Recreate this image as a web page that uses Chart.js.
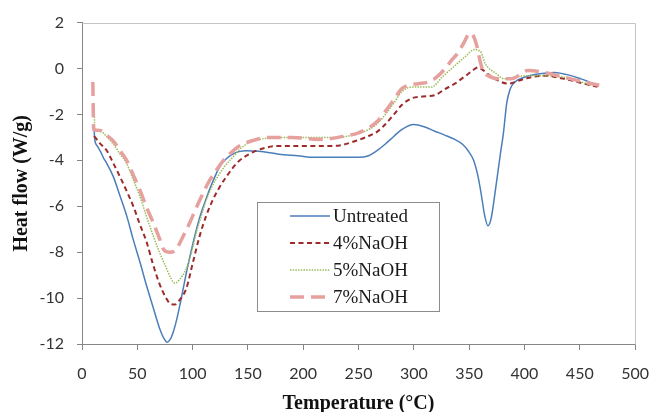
<!DOCTYPE html>
<html>
<head>
<meta charset="utf-8">
<script src="https://cdn.jsdelivr.net/npm/chart.js@4.4.1/dist/chart.umd.min.js"></script>
<style>
  html, body { margin: 0; padding: 0; background: #fff; }
  #wrap { width: 663px; height: 412px; }
</style>
</head>
<body>
<div id="wrap"><canvas id="dsc" width="663" height="412"></canvas></div>
<script>
// DSC curves (temperature in °C, heat flow in W/g)
const tempUntreated = [11, 11.3, 13.5, 16.5, 19.5, 22, 28.4, 34, 40.5, 46, 52.4, 58, 64.4, 70, 74, 77, 80, 83, 86, 90, 95, 100.4, 106, 112.4, 118, 124.4, 130, 136.3, 142, 148.4, 160, 178, 195, 211, 230, 250, 259, 266, 274, 282, 289, 299.7, 310, 319, 328, 337, 344, 349, 354, 358, 361, 364, 367, 370, 374, 378, 381, 384, 387, 391, 400, 412, 427, 442, 451, 459];
const flowUntreated = [-2.5, -3.0, -3.35, -3.6, -3.9, -4.1, -4.72, -5.5, -6.43, -7.4, -8.43, -9.4, -10.42, -11.3, -11.75, -11.92, -11.78, -11.4, -10.85, -9.95, -8.75, -7.6, -6.55, -5.65, -4.95, -4.29, -3.95, -3.73, -3.62, -3.58, -3.6, -3.73, -3.8, -3.87, -3.87, -3.87, -3.8, -3.6, -3.3, -2.95, -2.66, -2.44, -2.55, -2.73, -2.9, -3.09, -3.3, -3.58, -4.0, -4.7, -5.5, -6.4, -6.85, -6.5, -5.2, -3.8, -2.8, -1.5, -0.9, -0.6, -0.38, -0.24, -0.17, -0.31, -0.45, -0.59];

const temp4 = [11, 16, 22.5, 28, 34.4, 40, 46.4, 52, 58.5, 64, 70.4, 76, 80, 84, 88, 94.4, 100, 106.4, 112, 118.3, 124, 130.4, 136, 142.4, 154.3, 166, 178, 200, 229, 247, 259, 267, 274, 282, 289, 298, 308, 319, 328, 337, 343, 349, 354, 358, 362, 367, 376, 385, 400, 418, 436, 454, 466];
const flow4 = [-2.94, -3.25, -3.58, -4.1, -4.72, -5.3, -6.0, -6.75, -7.57, -8.5, -9.42, -10.0, -10.25, -10.28, -10.1, -9.57, -8.5, -7.29, -6.45, -5.72, -5.2, -4.72, -4.35, -4.01, -3.65, -3.45, -3.37, -3.37, -3.37, -3.16, -2.94, -2.75, -2.44, -2.0, -1.59, -1.3, -1.22, -1.16, -0.9, -0.66, -0.45, -0.24, -0.05, 0.05, -0.05, -0.24, -0.52, -0.66, -0.45, -0.31, -0.45, -0.66, -0.8];

const temp5 = [11, 11.5, 16.5, 22, 28.4, 34, 40.5, 46, 52.4, 58, 64.4, 70, 76.4, 80, 84, 88, 94.4, 99, 103.4, 108, 112.4, 118, 124.4, 130, 136.3, 142, 148.4, 160.3, 178, 200, 229, 247, 259, 267, 274, 282, 289, 298, 307, 316, 326, 337, 346, 355, 358, 361, 364, 368, 373, 382, 391, 403, 421, 442, 460];
const flow5 = [-1.5, -2.65, -2.73, -2.95, -3.3, -3.7, -4.15, -4.8, -5.58, -6.4, -7.29, -8.0, -8.71, -9.1, -9.35, -9.2, -8.71, -8.0, -7.15, -6.4, -5.72, -5.1, -4.58, -4.2, -3.87, -3.55, -3.3, -3.09, -3.01, -3.01, -3.01, -2.87, -2.66, -2.4, -2.02, -1.5, -1.02, -0.81, -0.81, -0.81, -0.35, 0.12, 0.5, 0.83, 0.8, 0.69, 0.26, 0.0, -0.17, -0.45, -0.38, -0.31, -0.31, -0.45, -0.73];

const temp7 = [9.8, 10.5, 16.5, 22, 28.4, 34, 40.5, 46, 52.4, 58, 64.4, 70, 73.4, 76.4, 79.4, 82.4, 85.4, 91, 97.4, 103, 109.4, 115, 121.4, 127, 133.4, 140, 148.4, 157, 166.4, 190, 214, 238, 250, 259, 267, 274, 282, 289, 295, 304, 313, 320, 328, 334, 340, 345, 350.7, 354, 357, 360, 363, 367, 376, 388, 403, 418, 436, 454, 467.6];
const flow7 = [-0.59, -2.66, -2.7, -2.9, -3.16, -3.55, -4.01, -4.6, -5.3, -6.0, -6.72, -7.4, -7.86, -7.98, -8.0, -7.98, -7.86, -7.35, -6.72, -6.1, -5.44, -4.9, -4.44, -4.05, -3.73, -3.45, -3.23, -3.1, -3.01, -3.0, -3.09, -2.94, -2.8, -2.59, -2.3, -1.88, -1.35, -0.88, -0.73, -0.66, -0.59, -0.4, -0.02, 0.35, 0.69, 1.1, 1.54, 1.4, 0.97, 0.3, -0.15, -0.31, -0.45, -0.45, -0.09, -0.17, -0.38, -0.59, -0.73];

const seriesNames = ['Untreated', '4%NaOH', '5%NaOH', '7%NaOH'];
const xTicks = [0, 50, 100, 150, 200, 250, 300, 350, 400, 450, 500];
const yTicks = [-12, -10, -8, -6, -4, -2, 0, 2];

const toPoints = (xs, ys) => xs.map((x, i) => ({ x, y: ys[i] }));

// legend drawn inside the plot, Excel style
const boxLegend = {
  id: 'boxLegend',
  afterDraw(chart) {
    const ctx = chart.ctx;
    const left = 257.5, top = 202.5, w = 182, h = 109;
    ctx.save();
    ctx.fillStyle = '#fff';
    ctx.fillRect(left, top, w, h);
    ctx.strokeStyle = '#8c8c8c';
    ctx.lineWidth = 1;
    ctx.strokeRect(left, top, w, h);
    ctx.font = '19px "Liberation Serif", "Times New Roman", serif';
    ctx.textBaseline = 'middle';
    chart.data.datasets.forEach((ds, i) => {
      const y = 216 + i * 27;
      ctx.strokeStyle = ds.borderColor;
      ctx.lineWidth = ds.borderWidth;
      ctx.setLineDash(ds.borderDash || []);
      ctx.beginPath();
      ctx.moveTo(290, y);
      ctx.lineTo(330, y);
      ctx.stroke();
      ctx.setLineDash([]);
      ctx.fillStyle = '#1a1a1a';
      ctx.fillText(ds.label, 333, y + 1);
    });
    ctx.restore();
  }
};

// light border on the top and right of the plot area
const plotFrame = {
  id: 'plotFrame',
  beforeDatasetsDraw(chart) {
    const { ctx, chartArea: a } = chart;
    ctx.save();
    ctx.strokeStyle = '#c4c4c4';
    ctx.lineWidth = 1;
    ctx.beginPath();
    ctx.moveTo(Math.round(a.left) + 0.5, Math.round(a.top) + 0.5);
    ctx.lineTo(Math.round(a.right) + 0.5, Math.round(a.top) + 0.5);
    ctx.lineTo(Math.round(a.right) + 0.5, Math.round(a.bottom) + 0.5);
    ctx.stroke();
    ctx.restore();
  }
};

const tickFont = { family: 'Lato, "Open Sans", sans-serif', size: 16 };
const titleFont = { family: '"Liberation Serif", "Times New Roman", serif', size: 20, weight: 'bold' };

new Chart(document.getElementById('dsc'), {
  type: 'line',
  data: {
    datasets: [
      { label: seriesNames[0], data: toPoints(tempUntreated, flowUntreated), borderColor: '#4a7ebb', borderWidth: 1.5, order: 4 },
      { label: seriesNames[1], data: toPoints(temp4, flow4), borderColor: '#9e2b2b', borderWidth: 2, borderDash: [5, 3.5], order: 3 },
      { label: seriesNames[2], data: toPoints(temp5, flow5), borderColor: '#9bbb59', borderWidth: 1.5, borderDash: [1.5, 1.2], order: 2 },
      { label: seriesNames[3], data: toPoints(temp7, flow7), borderColor: '#e6a09e', borderWidth: 3.5, borderDash: [14, 7], order: 1 }
    ]
  },
  options: {
    responsive: false,
    devicePixelRatio: 1,
    animation: false,
    layout: { padding: { top: 16, right: 25, left: 0, bottom: 0 } },
    elements: {
      point: { radius: 0 },
      line: { cubicInterpolationMode: 'monotone', fill: false }
    },
    plugins: {
      legend: { display: false },
      tooltip: { enabled: false }
    },
    scales: {
      x: {
        type: 'linear',
        min: 0,
        max: 500,
        afterFit: (s) => { s.height = 68; },
        afterBuildTicks: (s) => { s.ticks = xTicks.map(v => ({ value: v })); },
        grid: { drawOnChartArea: false, drawTicks: true, tickLength: 6, color: '#868686' },
        border: { display: true, color: '#868686', width: 1 },
        ticks: { font: tickFont, color: '#333', padding: 14, maxRotation: 0 },
        title: { display: true, text: 'Temperature (°C)', font: { ...titleFont, lineHeight: 0.8 }, color: '#111', padding: 0 }
      },
      y: {
        min: -12,
        max: 2,
        afterFit: (s) => { s.width = 82; },
        afterBuildTicks: (s) => { s.ticks = yTicks.map(v => ({ value: v })); },
        grid: { drawOnChartArea: false, drawTicks: true, tickLength: 5, color: '#868686' },
        border: { display: true, color: '#868686', width: 1 },
        ticks: { font: tickFont, color: '#333', padding: 13 },
        title: { display: true, text: 'Heat flow (W/g)', font: { ...titleFont, lineHeight: 1 }, color: '#111', padding: { top: 12, bottom: 0 } }
      }
    }
  },
  plugins: [plotFrame, boxLegend]
});
</script>
</body>
</html>
